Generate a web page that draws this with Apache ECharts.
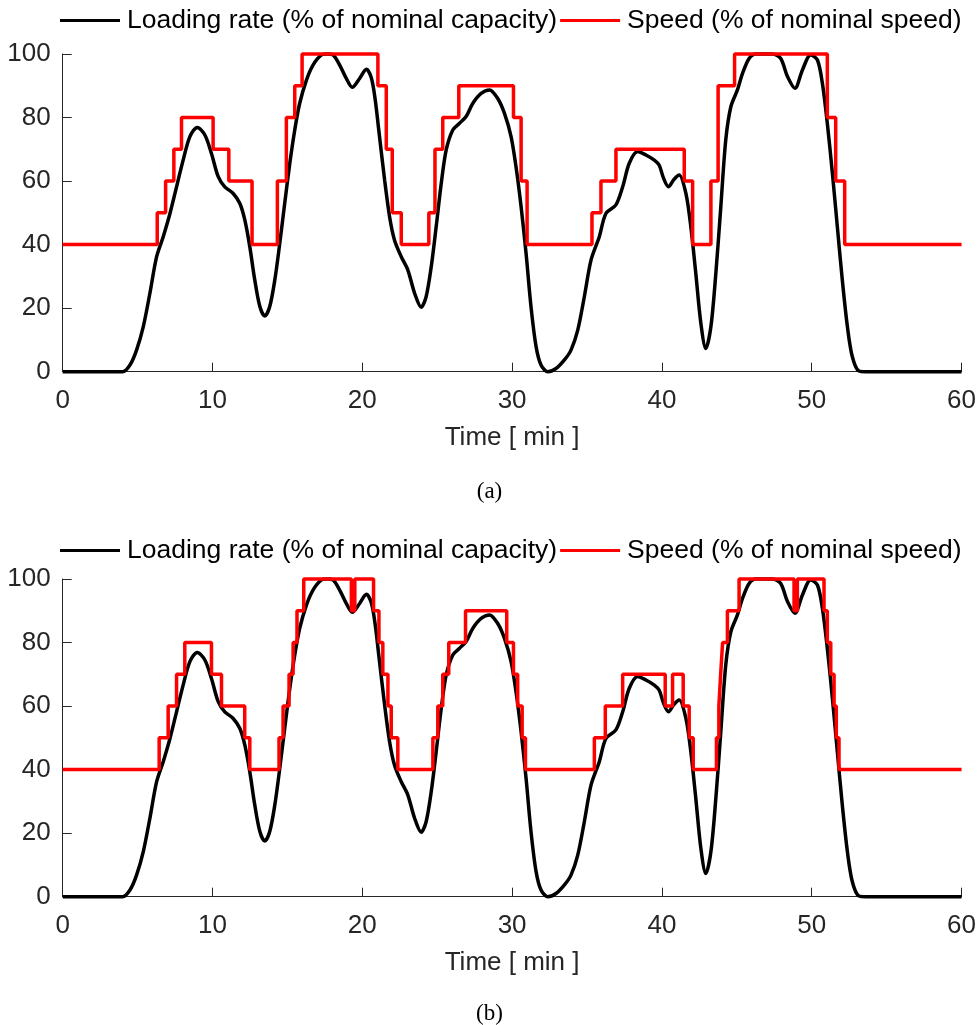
<!DOCTYPE html>
<html><head><meta charset="utf-8">
<script src="https://cdn.jsdelivr.net/npm/echarts@6/dist/echarts.min.js"></script>
<style>html,body{margin:0;padding:0;background:#fff}#c{width:979px;height:1025px}</style>
</head><body><div id="c"></div>
<script>
// ---- data ----
const loadTime = [0, 4.0, 4.49, 4.93, 5.38, 5.82, 6.27, 6.71, 7.16, 7.6, 8.04, 8.49, 8.98, 9.49, 9.93, 10.38, 10.82, 11.38, 11.82, 12.16, 12.49, 12.82, 13.16, 13.49, 13.82, 14.16, 14.49, 14.82, 15.16, 15.49, 15.82, 16.27, 16.71, 17.27, 17.65, 18.04, 18.49, 18.93, 19.33, 19.82, 20.27, 20.6, 20.85, 21.1, 21.49, 21.82, 22.15, 22.6, 23.04, 23.49, 23.93, 24.26, 24.6, 24.93, 25.27, 25.6, 26.04, 26.49, 26.93, 27.38, 27.93, 28.49, 29.04, 29.49, 29.93, 30.26, 30.6, 30.93, 31.26, 31.6, 31.93, 32.38, 32.93, 33.49, 33.93, 34.38, 34.82, 35.27, 35.82, 36.26, 36.93, 37.38, 37.82, 38.38, 38.93, 39.49, 39.82, 40.1, 40.44, 40.8, 41.15, 41.6, 41.93, 42.26, 42.6, 42.93, 43.27, 43.6, 43.93, 44.26, 44.6, 45.04, 45.38, 45.82, 46.26, 47.38, 47.93, 48.38, 48.88, 49.38, 49.93, 50.38, 50.71, 51.04, 51.38, 51.71, 52.04, 52.38, 52.71, 53.15, 53.6, 60];
const loadRate = [0, 0, 2.1, 6.8, 14.2, 24.7, 36.2, 42.5, 49.8, 58.2, 66.6, 74, 76.9, 74.5, 68.7, 61.4, 58.2, 56.1, 53, 47.7, 39.3, 28.9, 20.5, 17.5, 20.5, 28.9, 40.4, 53, 65.6, 76.1, 84.5, 91.8, 96.5, 99.7, 100, 99.7, 96.5, 92.3, 89.5, 92.3, 95.2, 92.5, 86, 76, 60.3, 48.8, 41.4, 36.2, 32, 24.7, 20.3, 23.6, 33, 45.6, 59.3, 69.8, 76.1, 78.2, 80.3, 84.5, 87.6, 88.7, 86, 81.3, 74, 64.5, 51.9, 37.3, 20.5, 7.9, 2.1, 0, 1, 3.7, 6.8, 13.1, 23.6, 35.2, 42.5, 49.8, 52.5, 58.2, 65.6, 69.3, 68.2, 66.6, 65, 61, 58.2, 60.5, 61.9, 56.1, 45.6, 31, 15.2, 7.3, 14.2, 31, 51.9, 72.9, 83.4, 88.7, 93.9, 98.6, 100, 100, 98.6, 92.9, 89.2, 95, 99.7, 98.1, 90.8, 78.2, 62.4, 45.6, 28.9, 14.2, 4.7, 0.2, 0, 0];

// speed steps: time at which a level starts, and the level
const speedTimeA = [0, 6.31, 6.87, 7.42, 7.93, 10.04, 11.09, 12.64, 14.33, 14.93, 15.49, 15.98, 21.04, 21.6, 22.0, 22.6, 24.44, 24.85, 25.37, 26.44, 30.09, 30.6, 31.0, 35.33, 35.93, 36.93, 41.49, 42.05, 43.27, 43.75, 44.85, 51.04, 51.6, 52.2, 60];
const speedLevelA = [40, 50, 60, 70, 80, 70, 60, 40, 60, 80, 90, 100, 90, 70, 50, 40, 50, 70, 80, 90, 80, 60, 40, 50, 60, 70, 60, 40, 60, 90, 100, 80, 60, 40, 40];

const speedTimeB = [0, 6.44, 7.04, 7.6, 8.15, 9.93, 10.6, 12.15, 12.49, 14.44, 14.71, 15.11, 15.38, 15.64, 16.09, 19.27, 19.5, 20.75, 21.11, 21.37, 21.71, 21.93, 22.37, 24.71, 25.04, 25.37, 25.77, 26.89, 29.64, 30.09, 30.37, 30.67, 30.89, 35.49, 36.22, 37.38, 40.22, 40.71, 41.42, 41.82, 42.09, 43.64, 43.8, 43.92, 44.05, 44.37, 45.15, 48.82, 49.04, 50.82, 51.04, 51.27, 51.49, 51.64, 51.82, 60];
const speedLevelB = [40, 50, 60, 70, 80, 70, 60, 50, 40, 50, 60, 70, 80, 90, 100, 90, 100, 90, 80, 70, 60, 50, 40, 50, 60, 70, 80, 90, 80, 70, 60, 50, 40, 50, 60, 70, 60, 70, 60, 50, 40, 50, 60, 70, 80, 90, 100, 90, 100, 90, 80, 70, 60, 50, 40, 40];

const seriesNames = ['Loading rate (% of nominal capacity)', 'Speed (% of nominal speed)'];
const captions = ['(a)', '(b)'];
const xAxisName = 'Time [ min ]';
const xRange = [0, 60, 10];
const yRange = [0, 100, 20];

// ---- chart ----
const zip = (xs, ys) => xs.map((x, i) => [x, ys[i]]);
const FONT = 'Liberation Sans, Arial, Helvetica, sans-serif';
const SERIF = 'Liberation Serif, Times New Roman, serif';
const AX = '#262626';

const grids = [
  { left: 62.7, right: 16.3, top: 54, height: 317.7 },
  { left: 62.7, right: 16.3, top: 579, height: 317.7 }
];

function xAx(i) {
  return {
    type: 'value', gridIndex: i, min: xRange[0], max: xRange[1], interval: xRange[2],
    name: xAxisName, nameLocation: 'middle', nameGap: 53,
    nameTextStyle: { fontFamily: FONT, fontSize: 26, color: AX },
    axisLine: { show: true, lineStyle: { color: AX, width: 1 } },
    axisTick: { show: true, inside: true, length: 9, lineStyle: { color: AX } },
    axisLabel: { fontFamily: FONT, fontSize: 26, color: AX, margin: 16 },
    splitLine: { show: false }
  };
}
function yAx(i) {
  return {
    type: 'value', gridIndex: i, min: yRange[0], max: yRange[1], interval: yRange[2],
    axisLine: { show: true, lineStyle: { color: AX, width: 1 } },
    axisTick: { show: true, inside: true, length: 9, lineStyle: { color: AX } },
    axisLabel: { fontFamily: FONT, fontSize: 26, color: AX, margin: 12 },
    splitLine: { show: false }
  };
}
function legend(top) {
  return {
    top: top, left: 60, padding: 0, itemGap: 3, itemWidth: 60, itemHeight: 3, icon: 'rect',
    textStyle: { fontFamily: FONT, fontSize: 26.5, color: '#000', padding: [0, 0, 0, 2] },
    data: seriesNames
  };
}
const loadSeries = (i) => ({
  name: seriesNames[0], type: 'line', xAxisIndex: i, yAxisIndex: i,
  data: zip(loadTime, loadRate), smooth: 0.3, showSymbol: false,
  clip: false, lineStyle: { color: '#000', width: 3.5 }, itemStyle: { color: '#000' }, z: 2
});
const speedSeries = (i, t, v) => ({
  name: seriesNames[1], type: 'line', xAxisIndex: i, yAxisIndex: i,
  data: zip(t, v), step: 'end', showSymbol: false,
  clip: false, lineStyle: { color: '#ff0000', width: 3.5 }, itemStyle: { color: '#ff0000' }, z: 3
});

const chart = echarts.init(document.getElementById('c'), null, { renderer: 'canvas' });
chart.setOption({
  animation: false,
  backgroundColor: '#fff',
  title: [
    { text: captions[0], left: 'center', top: 475, textStyle: { fontFamily: SERIF, fontSize: 23, fontWeight: 'normal', color: '#000' } },
    { text: captions[1], left: 'center', top: 997, textStyle: { fontFamily: SERIF, fontSize: 23, fontWeight: 'normal', color: '#000' } }
  ],
  legend: [legend(7), legend(537)],
  grid: grids,
  xAxis: [xAx(0), xAx(1)],
  yAxis: [yAx(0), yAx(1)],
  series: [
    loadSeries(0), speedSeries(0, speedTimeA, speedLevelA),
    loadSeries(1), speedSeries(1, speedTimeB, speedLevelB)
  ]
});
</script></body></html>
